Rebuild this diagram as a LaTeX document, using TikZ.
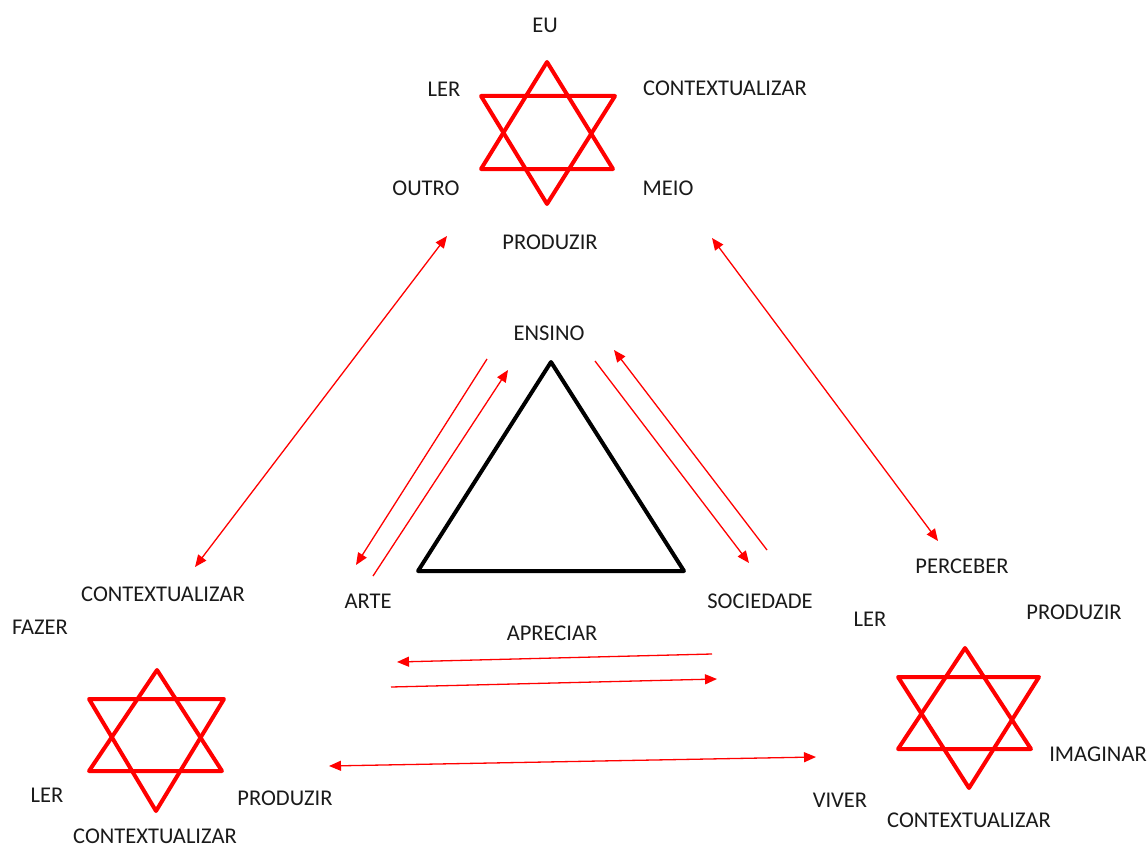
\documentclass[tikz,border=0pt]{standalone}
\usepackage{fontspec}
\setmainfont{Carlito}
\usetikzlibrary{arrows.meta}
\definecolor{starred}{HTML}{FF0000}
\definecolor{labelink}{HTML}{1A1A1A}

\begin{document}
\begin{tikzpicture}[x=1pt,y=-1pt,
  point/.style={coordinate},
  word/.style={text=labelink, font=\fontsize{22.5}{26}\selectfont, inner sep=0pt},
  star/.style={draw=starred, line width=4pt, line join=round},
  base/.style={draw=black, line width=4pt, line join=round},
  link/.style={draw=starred, line width=1.3pt, -{Triangle[length=12pt,width=10pt]}},
  both/.style={link, {Triangle[length=12pt,width=10pt]}-{Triangle[length=12pt,width=10pt]}}]
\useasboundingbox (0,0) rectangle (1148,848);
% stars
\draw[star] (547,62) -- (613,169) -- (481,169) -- cycle;
\draw[star] (481,96) -- (615,96) -- (547,204) -- cycle;
\draw[star] (157,670) -- (222,771) -- (89,771) -- cycle;
\draw[star] (89,699) -- (224,699) -- (156,811) -- cycle;
\draw[star] (965,648) -- (1031,749) -- (898,749) -- cycle;
\draw[star] (898,677) -- (1039,677) -- (969,788) -- cycle;
% triangle
\draw[base] (551,362) -- (684,571) -- (418,571) -- cycle;
% labels
\node[word] (eu) at (545,25) {EU};
\node[word] (ler1) at (444,89) {LER};
\node[word] (ctx1) at (725,88) {CONTEXTUALIZAR};
\node[word] (outro) at (426,188) {OUTRO};
\node[word] (meio) at (668,188) {MEIO};
\node[word] (prod1) at (550,242) {PRODUZIR};
\node[word] (ensino) at (549,333) {ENSINO};
\node[word] (arte) at (368,601) {ARTE};
\node[word] (soc) at (760,601) {SOCIEDADE};
\node[word] (apreciar) at (552,633) {APRECIAR};
\node[word] (ctx2) at (163,594) {CONTEXTUALIZAR};
\node[word] (fazer) at (40,627) {FAZER};
\node[word] (ler2) at (47,795) {LER};
\node[word] (prod2) at (285,798) {PRODUZIR};
\node[word] (ctx3) at (155,836) {CONTEXTUALIZAR};
\node[word] (perceber) at (962,566) {PERCEBER};
\node[word] (ler3) at (870,619) {LER};
\node[word] (prod3) at (1074,612) {PRODUZIR};
\node[word] (imaginar) at (1098,754) {IMAGINAR};
\node[word] (viver) at (840,800) {VIVER};
\node[word] (ctx4) at (969,820) {CONTEXTUALIZAR};
% arrow ends
\node[point] (t1) at (447,236) {};
\node[point] (t2) at (195,567) {};
\node[point] (t3) at (712,238) {};
\node[point] (t4) at (938,541) {};
\node[point] (a1) at (487,359) {};
\node[point] (a2) at (356,565) {};
\node[point] (a3) at (373,576) {};
\node[point] (a4) at (508,370) {};
\node[point] (s1) at (595,361) {};
\node[point] (s2) at (749,563) {};
\node[point] (s3) at (767,550) {};
\node[point] (s4) at (614,350) {};
\node[point] (p1) at (712,654) {};
\node[point] (p2) at (397,662) {};
\node[point] (p3) at (391,687) {};
\node[point] (p4) at (717,679) {};
\node[point] (b1) at (329,766) {};
\node[point] (b2) at (816,757) {};
\draw[both] (t1) -- (t2);
\draw[both] (t3) -- (t4);
\draw[link] (a1) -- (a2);
\draw[link] (a3) -- (a4);
\draw[link] (s1) -- (s2);
\draw[link] (s3) -- (s4);
\draw[link] (p1) -- (p2);
\draw[link] (p3) -- (p4);
\draw[both] (b1) -- (b2);
\end{tikzpicture}
\end{document}
